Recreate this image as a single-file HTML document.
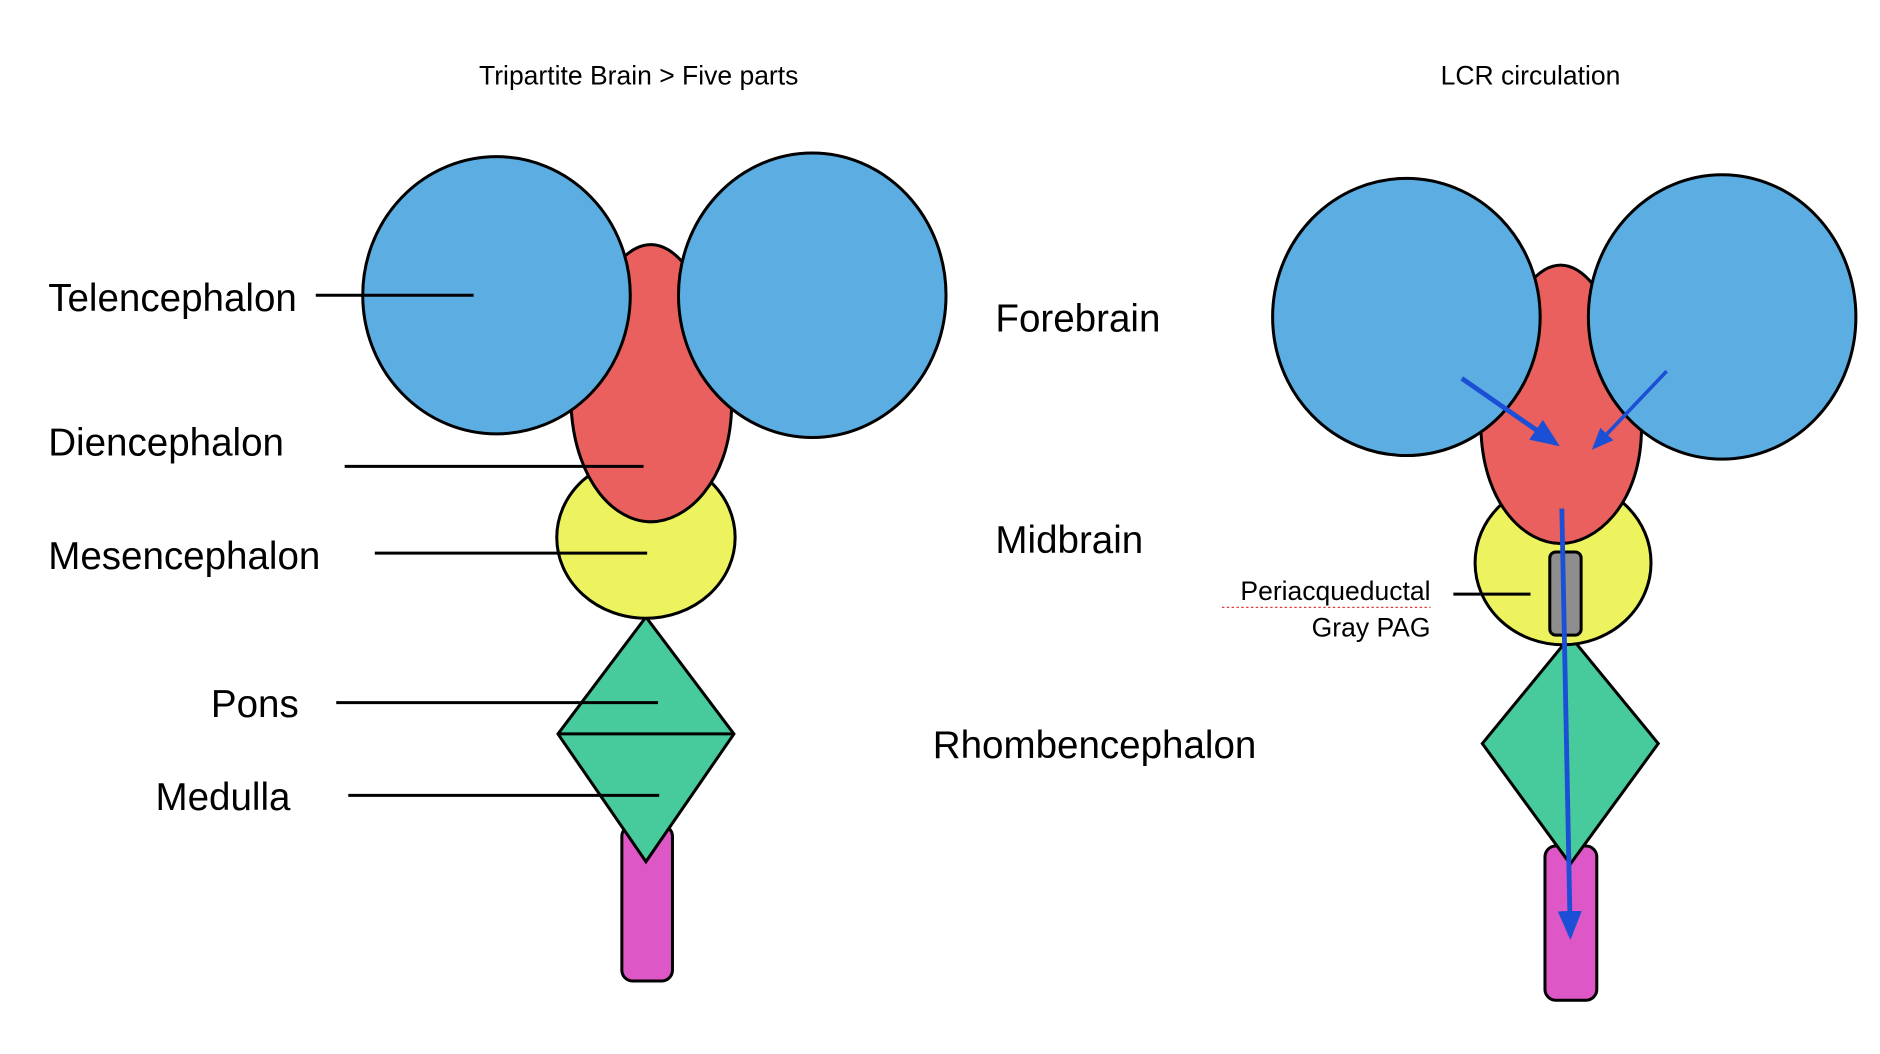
<!DOCTYPE html>
<html><head><meta charset="utf-8"><style>
html,body{margin:0;padding:0;background:#fff;}
svg{display:block}
text{font-family:"Liberation Sans",Arial,sans-serif;fill:#000}
</style></head><body>
<svg width="1880" height="1054" viewBox="0 0 1560 874.6" preserveAspectRatio="none" xmlns="http://www.w3.org/2000/svg">
<defs>
<marker id="ah" markerWidth="6" markerHeight="5" refX="5" refY="2.5" orient="auto" markerUnits="strokeWidth">
<path d="M0,0 L6,2.5 L0,5 Z" fill="#1a4fd6"/>
</marker>
</defs>
<text x="530" y="70" font-size="22" text-anchor="middle">Tripartite Brain &gt; Five parts</text>
<text x="1270" y="70" font-size="22" text-anchor="middle">LCR circulation</text>

<g stroke="#000" stroke-width="2.5">
<rect x="516" y="685" width="42" height="129" rx="9" fill="#de57c6"/>
<path d="M536,512 L609,609 L536,715 L463,609 Z" fill="#47cb9c"/>
<line x1="463" y1="609" x2="609" y2="609"/>
<ellipse cx="536" cy="446" rx="74" ry="67" fill="#edf35e"/>
<path d="M540,203 C500,203 472,300 474,340 C478,400 510,433 540,433 C570,433 605,400 607,340 C608,300 580,203 540,203 Z" fill="#e9605e"/>
<ellipse cx="412" cy="245" rx="111" ry="115" fill="#5caee2"/>
<ellipse cx="674" cy="245" rx="111" ry="118" fill="#5caee2"/>
<line x1="262" y1="245" x2="393" y2="245"/>
<line x1="286" y1="387" x2="534" y2="387"/>
<line x1="311" y1="459" x2="537" y2="459"/>
<line x1="279" y1="583" x2="546" y2="583"/>
<line x1="289" y1="660" x2="547" y2="660"/>
</g>
<text x="40" y="258" font-size="32">Telencephalon</text>
<text x="40" y="378" font-size="32">Diencephalon</text>
<text x="40" y="472" font-size="32">Mesencephalon</text>
<text x="175" y="595" font-size="32">Pons</text>
<text x="129" y="672" font-size="32">Medulla</text>
<text x="826" y="275" font-size="32">Forebrain</text>
<text x="826" y="459" font-size="32">Midbrain</text>
<text x="774" y="629" font-size="32">Rhombencephalon</text>

<g transform="translate(-4,0)">
<g stroke="#000" stroke-width="2.5">
<rect x="1286" y="702" width="43" height="128" rx="9" fill="#de57c6"/>
<path d="M1307,528 L1380,617 L1307,717 L1234,617 Z" fill="#47cb9c"/>
<ellipse cx="1301" cy="467" rx="73" ry="68" fill="#edf35e"/>
<rect x="1290" y="458" width="26" height="69" rx="5" fill="#8e8e8e"/>
<path d="M1299,220 C1260,220 1232,320 1233,360 C1236,420 1270,451 1299,451 C1328,451 1364,420 1366,360 C1367,320 1338,220 1299,220 Z" fill="#e9605e"/>
<ellipse cx="1171" cy="263" rx="111" ry="115" fill="#5caee2"/>
<ellipse cx="1433" cy="263" rx="111" ry="118" fill="#5caee2"/>
<line x1="1210" y1="493" x2="1274" y2="493"/>
</g>
<g stroke="#1a4fd6" stroke-width="4" fill="none">
<line x1="1217" y1="314" x2="1295" y2="368" marker-end="url(#ah)"/>
<line x1="1387" y1="308" x2="1327" y2="371" stroke-width="3" marker-end="url(#ah)"/>
<line x1="1300" y1="422" x2="1307" y2="776" marker-end="url(#ah)"/>
</g>
<text x="1191" y="498" font-size="22" text-anchor="end">Periacqueductal</text>
<line x1="1018" y1="504" x2="1191" y2="504" stroke="#e04040" stroke-width="1" stroke-dasharray="2,2"/>
<text x="1191" y="528" font-size="22" text-anchor="end">Gray PAG</text>
</g>
</svg>
</body></html>
